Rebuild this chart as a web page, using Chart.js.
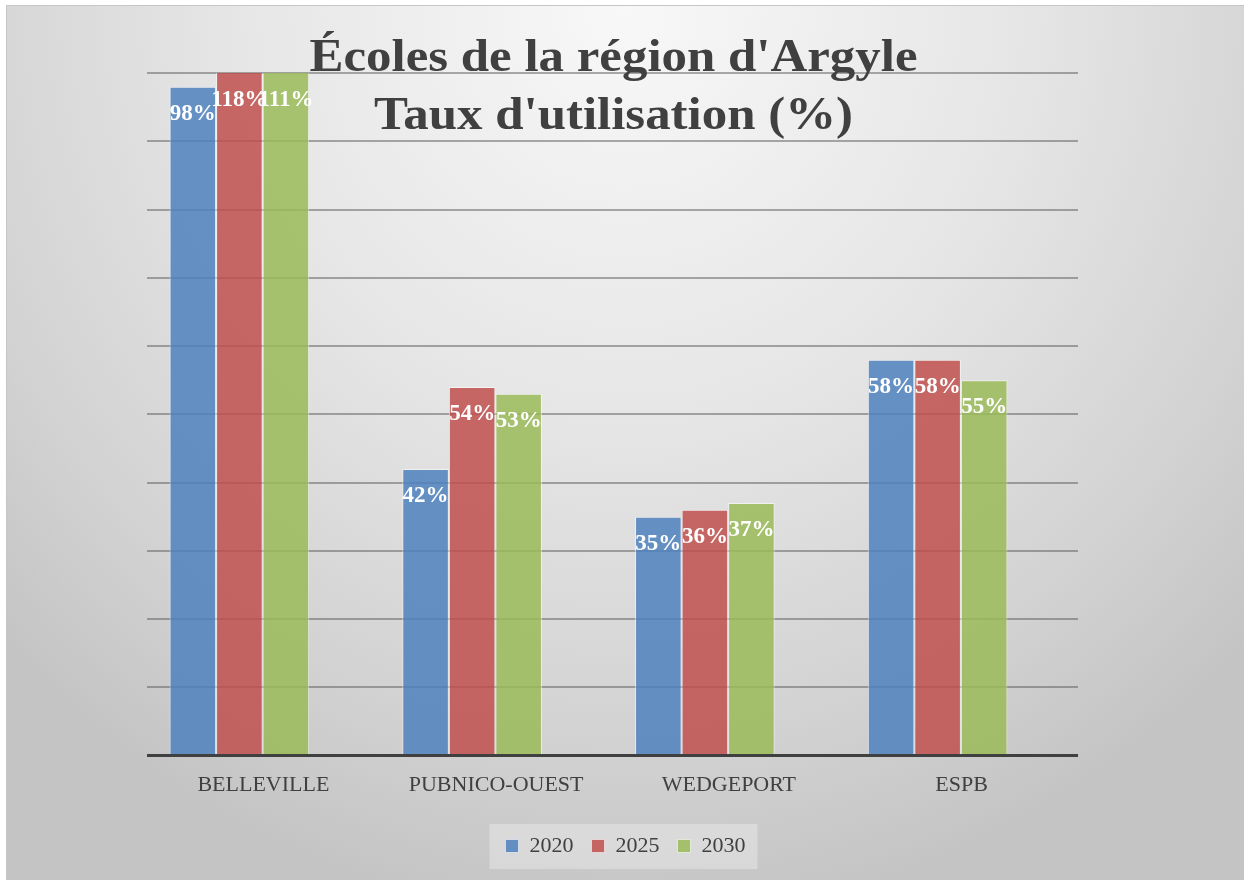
<!DOCTYPE html>
<html>
<head>
<meta charset="utf-8">
<script src="https://cdn.jsdelivr.net/npm/chart.js@4.4.1/dist/chart.umd.min.js"></script>
<style>
  html, body { margin: 0; padding: 0; background: #ffffff; width: 1244px; height: 880px; overflow: hidden; }
  #wrap {
    position: absolute; left: 6px; top: 5px; width: 1237px; height: 874px;
    border-top: 1px solid #c6c6c6; border-left: 1px solid #c6c6c6;
    background: radial-gradient(ellipse 70% 105% at 50% 0%, #f8f8f8 0%, #e6e6e6 45%, #d2d2d2 80%, #c4c4c4 100%);
  }
  canvas { display: block; }
</style>
</head>
<body>
<div id="wrap"><canvas id="c" width="1237" height="874"></canvas></div>
<script>
const categories = ['BELLEVILLE', 'PUBNICO-OUEST', 'WEDGEPORT', 'ESPB'];
const seriesNames = ['2020', '2025', '2030'];
const values2020 = [98, 42, 35, 58];
const values2025 = [118, 54, 36, 58];
const values2030 = [111, 53, 37, 55];
const titleLines = ["Écoles de la région d'Argyle", "Taux d'utilisation (%)"];

const SERIF = '"Liberation Serif", "DejaVu Serif", serif';
const TEXT = '#404040';
const GRID_SHIFT = 24;

const gridPlugin = {
  id: 'shiftedGrid',
  beforeDatasetsDraw(chart) {
    const ctx = chart.ctx;
    const ca = chart.chartArea;
    const ys = chart.scales.y;
    ctx.save();
    ctx.strokeStyle = 'rgba(90,90,90,0.5)';
    ctx.lineWidth = 2;
    ys.ticks.forEach(t => {
      if (t.value === 0) return;
      const y = Math.round(ys.getPixelForValue(t.value));
      ctx.beginPath();
      ctx.moveTo(ca.left + GRID_SHIFT, y);
      ctx.lineTo(ca.right + GRID_SHIFT, y);
      ctx.stroke();
    });
    ctx.restore();
  },
  afterDatasetsDraw(chart) {
    const ctx = chart.ctx;
    const ca = chart.chartArea;
    const y = chart.scales.y.getPixelForValue(0);
    ctx.save();
    ctx.strokeStyle = '#404040';
    ctx.lineWidth = 3;
    ctx.beginPath();
    ctx.moveTo(ca.left + GRID_SHIFT, y);
    ctx.lineTo(ca.right + GRID_SHIFT, y);
    ctx.stroke();
    ctx.restore();
  }
};

const labelPlugin = {
  id: 'barLabels',
  afterDatasetsDraw(chart) {
    const ctx = chart.ctx;
    const top = chart.chartArea.top;
    ctx.save();
    ctx.fillStyle = '#ffffff';
    ctx.font = 'bold 23px ' + SERIF;
    ctx.textAlign = 'center';
    ctx.textBaseline = 'middle';
    chart.data.datasets.forEach((ds, i) => {
      const meta = chart.getDatasetMeta(i);
      meta.data.forEach((el, j) => {
        const y = Math.max(el.y, top);
        ctx.fillText(ds.data[j] + '%', el.x, y + 27);
      });
    });
    ctx.restore();
  }
};

const titlePlugin = {
  id: 'bigTitle',
  afterDraw(chart) {
    const ctx = chart.ctx;
    const ca = chart.chartArea;
    const cx = (ca.left + ca.right) / 2 + GRID_SHIFT + 1;
    ctx.save();
    ctx.fillStyle = TEXT;
    ctx.font = 'bold 47px ' + SERIF;
    ctx.textAlign = 'center';
    ctx.textBaseline = 'alphabetic';
    const w = ctx.measureText(titleLines[0]).width;
    const sx = 608 / w;
    ctx.translate(cx, 0);
    ctx.scale(sx, 1);
    ctx.fillText(titleLines[0], 0, 65);
    ctx.fillText(titleLines[1], 0, 123);
    ctx.restore();
  }
};

const legendBgPlugin = {
  id: 'legendBg',
  beforeDraw(chart) {
    const lg = chart.legend;
    if (!lg || !lg.legendHitBoxes || !lg.legendHitBoxes.length) return;
    const hb = lg.legendHitBoxes;
    let l = Infinity, r = -Infinity, cy = 0;
    hb.forEach(b => { l = Math.min(l, b.left); r = Math.max(r, b.left + b.width); cy += b.top + b.height / 2; });
    cy /= hb.length;
    const ctx = chart.ctx;
    ctx.save();
    ctx.fillStyle = 'rgba(255,255,255,0.3)';
    ctx.fillRect(l - 16, cy - 22, (r - l) + 28, 45);
    ctx.restore();
  }
};

new Chart(document.getElementById('c'), {
  type: 'bar',
  data: {
    labels: categories,
    datasets: [
      { label: seriesNames[0], data: values2020, backgroundColor: 'rgba(79,129,189,0.85)', borderColor: 'rgba(255,255,255,0.55)', borderWidth: 1 },
      { label: seriesNames[1], data: values2025, backgroundColor: 'rgba(192,80,77,0.85)', borderColor: 'rgba(255,255,255,0.55)', borderWidth: 1 },
      { label: seriesNames[2], data: values2030, backgroundColor: 'rgba(155,187,89,0.85)', borderColor: 'rgba(255,255,255,0.55)', borderWidth: 1 }
    ]
  },
  options: {
    responsive: false,
    animation: false,
    events: [],
    layout: { padding: { top: 67, bottom: 13, left: 0, right: 0 } },
    datasets: { bar: { categoryPercentage: 0.6, barPercentage: 1.0 } },
    scales: {
      x: {
        grid: { display: false, drawTicks: false },
        border: { display: false },
        ticks: { color: TEXT, font: { family: SERIF, size: 22 }, padding: 16, maxRotation: 0, labelOffset: GRID_SHIFT },
        afterFit(scale) { scale.height += 3; }
      },
      y: {
        min: 0, max: 100,
        afterFit(scale) { scale.width = 116; },
        ticks: { display: false, stepSize: 10 },
        grid: { display: false, drawTicks: false },
        border: { display: false }
      },
      y2: {
        position: 'right',
        min: 0, max: 100,
        afterFit(scale) { scale.width = 190; },
        ticks: { display: false },
        grid: { display: false, drawTicks: false },
        border: { display: false }
      }
    },
    plugins: {
      title: { display: false },
      tooltip: { enabled: false },
      legend: {
        position: 'bottom',
        labels: { color: TEXT, font: { family: SERIF, size: 22 }, boxWidth: 13, boxHeight: 13, padding: 18 }
      }
    }
  },
  plugins: [gridPlugin, labelPlugin, titlePlugin, legendBgPlugin]
});
</script>
</body>
</html>
